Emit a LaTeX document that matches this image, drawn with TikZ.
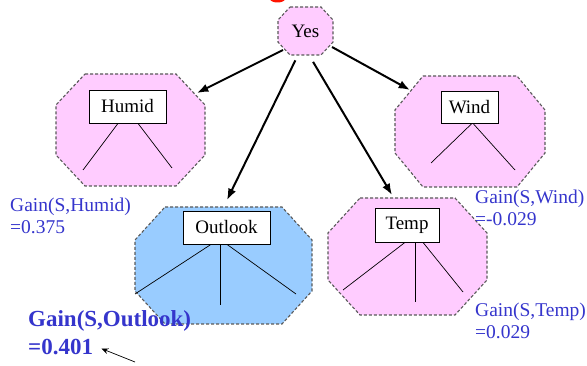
\documentclass[tikz,border=0pt]{standalone}
\usepackage{fontspec}
\setmainfont{Liberation Serif}
\usetikzlibrary{arrows.meta,positioning,backgrounds}
\definecolor{splitpink}{HTML}{FFCCFF}
\definecolor{splitblue}{HTML}{99CCFF}
\definecolor{gainblue}{HTML}{3535CC}
\tikzset{
  splitarea/.style={rectangle, draw=none, inner sep=0pt, outer sep=0pt},
  octline/.style={draw=black!65, densely dashed, line width=1.1pt},
  attrbox/.style={draw=black, line width=0.8pt, fill=white, inner sep=0pt, font=\fontsize{19}{22}\selectfont},
  treearrow/.style={-{Latex[length=4mm,width=3mm]}, line width=2pt},
  branch/.style={line width=0.7pt},
  gainlbl/.style={text=gainblue, align=left, anchor=north west, inner sep=0pt, font=\fontsize{19.5}{22}\selectfont},
  gainbest/.style={text=gainblue, anchor=base west, inner sep=0pt, font=\fontsize{23}{28}\selectfont\bfseries}
}
% octagon round a split area: node, corner x cut, corner y cut, fill
\newcommand{\splitoct}[4]{%
  \filldraw[octline, fill=#4] ([xshift=#2pt]#1.north west) -- ([xshift=-#2pt]#1.north east)
    -- ([yshift=-#3pt]#1.north east) -- ([yshift=#3pt]#1.south east)
    -- ([xshift=-#2pt]#1.south east) -- ([xshift=#2pt]#1.south west)
    -- ([yshift=#3pt]#1.south west) -- ([yshift=-#3pt]#1.north west) -- cycle;}
\begin{document}
\begin{tikzpicture}[x=1pt,y=-1pt]
  \useasboundingbox (0,0) rectangle (587,366);
  % tail of the cut-off title
  \fill[red!85!orange] (277.5,-1) ellipse (7.5 and 3.5);

  % candidate splits
  \node[splitarea, minimum width=55pt, minimum height=48pt, font=\fontsize{19}{22}\selectfont] (yes) at (305.5,31) {Yes};
  \node[splitarea, minimum width=149pt, minimum height=112pt] (humid) at (130.5,130) {};
  \node[splitarea, minimum width=150pt, minimum height=111pt] (wind) at (470,131.5) {};
  \node[splitarea, minimum width=177pt, minimum height=117pt] (outlook) at (223.5,265.5) {};
  \node[splitarea, minimum width=159pt, minimum height=117pt] (temp) at (407.5,256.5) {};

  \begin{scope}[on background layer]
    \splitoct{yes}{12}{13}{splitpink}
    \splitoct{humid}{29}{31}{splitpink}
    \splitoct{wind}{28}{34}{splitpink}
    \splitoct{outlook}{30}{33}{splitblue}
    \splitoct{temp}{32}{35}{splitpink}
  \end{scope}

  \node[attrbox, minimum width=77pt, minimum height=33pt] (hbox) at (127.5,106.5) {Humid};
  \node[attrbox, minimum width=57pt, minimum height=32pt] (wbox) at (469.5,107) {Wind};
  \node[attrbox, minimum width=87pt, minimum height=33pt] (obox) at (226.5,227.5) {Outlook};
  \node[attrbox, minimum width=64pt, minimum height=34pt] (tbox) at (407,225) {Temp};

  % branches
  \coordinate (hl) at (83,170);
  \coordinate (hr) at (172,168);
  \draw[branch] ([xshift=-9.5pt]hbox.south) -- (hl);
  \draw[branch] ([xshift=10.5pt]hbox.south) -- (hr);
  \coordinate (wl) at (431,163);
  \coordinate (wr) at (515,170);
  \draw[branch] ([xshift=2.5pt]wbox.south) -- (wl);
  \draw[branch] ([xshift=3.5pt]wbox.south) -- (wr);
  \coordinate (ol) at (135,294);
  \coordinate (om) at (220,305);
  \coordinate (or) at (296,294);
  \draw[branch] ([xshift=-15.5pt]obox.south) -- (ol);
  \draw[branch] ([xshift=-6.5pt]obox.south) -- (om);
  \draw[branch] ([xshift=0.5pt]obox.south) -- (or);
  \coordinate (tl) at (343,290);
  \coordinate (tm) at (415,302);
  \coordinate (tr) at (463,292);
  \draw[branch] ([xshift=-2pt]tbox.south) -- (tl);
  \draw[branch] ([xshift=8pt]tbox.south) -- (tm);
  \draw[branch] ([xshift=16pt]tbox.south) -- (tr);

  % arrows from the root
  \draw[treearrow] ([xshift=5pt,yshift=5pt]yes.south west) -- ([xshift=-8pt,yshift=-19pt]humid.north east);
  \draw[treearrow] ([xshift=-1pt,yshift=8pt]yes.south east) -- ([xshift=15pt,yshift=-14pt]wind.north west);
  \draw[treearrow, shorten <=6pt] ([xshift=-7.5pt]yes.south) -- ([xshift=3.5pt,yshift=7pt]outlook.north);
  \draw[treearrow, shorten <=8pt] ([xshift=3.5pt]yes.south) -- ([xshift=-15.5pt,yshift=3pt]temp.north);

  % gains
  \node[gainlbl] (ghumid) at (10,198) {Gain(S,Humid)\\=0.375};
  \node[gainlbl] (gwind) at (475,190) {Gain(S,Wind)\\=-0.029};
  \node[gainlbl] (gtemp) at (475,303) {Gain(S,Temp)\\=0.029};
  \node[gainbest] (goname) at (28,327) {Gain(S,Outlook)};
  \node[gainbest] (goval) at (28,355) {=0.401};
  \coordinate (gptr) at (135,362);
  \draw[-{Stealth[length=2.5mm,width=2mm]}, line width=0.7pt] (gptr) -- ([xshift=8pt,yshift=-1pt]goval.east);
\end{tikzpicture}
\end{document}
